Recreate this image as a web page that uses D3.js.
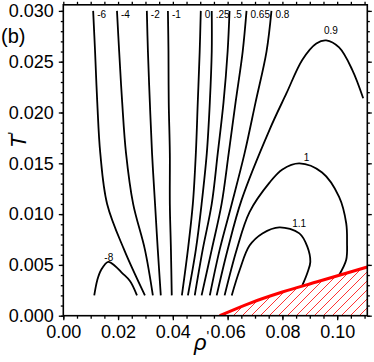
<!DOCTYPE html>
<html><head><meta charset="utf-8">
<script src="https://cdn.jsdelivr.net/npm/d3@7"></script>
<style>body{margin:0;background:#fff}svg{display:block}text{font-family:"Liberation Sans",Arial,sans-serif}</style>
</head><body><div id="c"></div>
<script>
// ---- data ----
const rhoTicks = [0, 0.02, 0.04, 0.06, 0.08, 0.10];
const tTicks = [0, 0.005, 0.010, 0.015, 0.020, 0.025, 0.030];
const levelLabels = ["-8", "-6", "-4", "-2", "-1", "0", ".25", ".5", "0.65", "0.8", "0.9", "1", "1.1"];
const fanT = [0.030, 0.026, 0.021, 0.016, 0.011, 0.0065, 0.002];
const contourRho = [
  [0.0113, 0.0124, 0.0138, 0.0164, 0.0189, 0.0215, 0.0244, 0.0269],
  [0.0109, 0.0116, 0.0124, 0.0135, 0.0160, 0.0222, 0.0298],
  [0.0196, 0.0204, 0.0215, 0.0229, 0.0255, 0.0298, 0.0327],
  [0.0305, 0.0309, 0.0316, 0.0324, 0.0335, 0.0345, 0.0356],
  [0.0382, 0.0384, 0.0385, 0.0389, 0.0389, 0.0393, 0.0396],
  [0.0502, 0.0498, 0.0491, 0.0484, 0.0473, 0.0455, 0.0433],
  [0.0542, 0.0542, 0.0535, 0.0524, 0.0505, 0.0484, 0.0455],
  [0.0607, 0.0600, 0.0585, 0.0564, 0.0542, 0.0509, 0.0480],
  [0.0669, 0.0655, 0.0629, 0.0604, 0.0578, 0.0542, 0.0505],
  [0.0760, 0.0742, 0.0702, 0.0662, 0.0615, 0.0571, 0.0535],
  [0.0560, 0.0600, 0.0651, 0.0753, 0.0815, 0.0873, 0.0924, 0.0960, 0.1007, 0.1055, 0.1095],
  [0.0589, 0.0633, 0.0680, 0.0753, 0.0800, 0.0862, 0.0945, 0.1007, 0.1033, 0.1036, 0.1033, 0.1007],
  [0.0615, 0.0644, 0.0680, 0.0727, 0.0789, 0.0862, 0.0891, 0.0902, 0.0891, 0.0873]
];
const contourT = [
  [0.0020, 0.0035, 0.0045, 0.0053, 0.0049, 0.0042, 0.0034, 0.0020],
  fanT, fanT, fanT, fanT, fanT, fanT, fanT, fanT, fanT,
  [0.0020, 0.0065, 0.0114, 0.0183, 0.0219, 0.0252, 0.0268, 0.0271, 0.0264, 0.0242, 0.0214],
  [0.0020, 0.0065, 0.0102, 0.0131, 0.0144, 0.0150, 0.0141, 0.0117, 0.0091, 0.0072, 0.0055, 0.0040],
  [0.0020, 0.0045, 0.0069, 0.0081, 0.0087, 0.0081, 0.0068, 0.0053, 0.0042, 0.0030]
];
// label anchors for closed/hump contours (label centre, baseline) in data units; null = top of line
const labelRho = [0.0166, null, null, null, null, null, null, null, null, null, 0.0977, 0.0888, 0.0861];
const labelT = [0.00538, null, null, null, null, null, null, null, null, null, 0.02773, 0.01523, 0.00870];
const boundaryRho = [0.0571, 0.0680, 0.0800, 0.0924, 0.1110];
const boundaryT = [0, 0.00122, 0.00233, 0.00332, 0.00479];

// ---- chart ----
const W = 374, H = 362;
const x = d3.scaleLinear().domain([0, 0.111]).range([63.3, 367.3]);
const y = d3.scaleLinear().domain([0, 0.0306]).range([315.7, 4.8]);
const svg = d3.select("#c").append("svg").attr("width", W).attr("height", H);

const defs = svg.append("defs");
defs.append("clipPath").attr("id", "clip").append("rect")
  .attr("x", x(0)).attr("y", y(0.0306)).attr("width", x(0.111) - x(0)).attr("height", y(0) - y(0.0306));
const pat = defs.append("pattern").attr("id", "hatch").attr("patternUnits", "userSpaceOnUse")
  .attr("width", 9).attr("height", 9);
pat.append("path").attr("d", "M-1,10 L10,-1 M-3,3 L3,-3 M6,12 L12,6")
  .attr("stroke", "#ff0000").attr("stroke-width", 0.8);

const plot = svg.append("g").attr("clip-path", "url(#clip)");

// hatched region under boundary
const bPts = boundaryRho.map((r, i) => [r, boundaryT[i]]);
const area = d3.area().x(d => x(d[0])).y0(y(0)).y1(d => y(d[1])).curve(d3.curveMonotoneX);
plot.append("path").datum(bPts).attr("d", area).attr("fill", "url(#hatch)");

// contours
const line = d3.line().x(d => x(d[0])).y(d => y(d[1])).curve(d3.curveCatmullRom.alpha(0.5));
contourRho.forEach((rs, i) => {
  const pts = rs.map((r, j) => [r, contourT[i][j]]);
  plot.append("path").datum(pts).attr("d", line)
    .attr("fill", "none").attr("stroke", "#000").attr("stroke-width", 1.8);
  let lx, ly, anchor;
  if (labelRho[i] === null) {
    lx = x(pts[0][0]) + 4; ly = y(pts[0][1]) + 7.5; anchor = "start";
  } else {
    lx = x(labelRho[i]); ly = y(labelT[i]); anchor = "middle";
  }
  svg.append("text").attr("x", lx).attr("y", ly).attr("text-anchor", anchor)
    .attr("font-size", 10).text(levelLabels[i]);
});

// boundary
plot.append("path").datum(bPts).attr("d", d3.line().x(d => x(d[0])).y(d => y(d[1])).curve(d3.curveMonotoneX))
  .attr("fill", "none").attr("stroke", "#ff0000").attr("stroke-width", 3);

// axes
const minorX = d3.range(0, 0.1111, 0.005);
const minorY = d3.range(0, 0.0306, 0.001);
function styleAxis(g) { g.select(".domain").remove(); g.selectAll("line").attr("stroke", "#000").attr("stroke-width", 1.3); }
svg.append("g").attr("transform", `translate(0,${y(0)})`)
  .call(d3.axisBottom(x).tickValues(minorX).tickSize(3).tickFormat("")).call(styleAxis);
svg.append("g").attr("transform", `translate(0,${y(0)})`)
  .call(d3.axisBottom(x).tickValues(rhoTicks).tickSize(4.5).tickPadding(5).tickFormat(d3.format(".2f")))
  .call(styleAxis).selectAll("text").attr("font-size", 18).attr("fill", "#000");
svg.append("g").attr("transform", `translate(0,${y(0.0306)})`)
  .call(d3.axisTop(x).tickValues(minorX).tickSize(3).tickFormat("")).call(styleAxis);
svg.append("g").attr("transform", `translate(${x(0)},0)`)
  .call(d3.axisLeft(y).tickValues(minorY).tickSize(2.5).tickFormat("")).call(styleAxis);
svg.append("g").attr("transform", `translate(${x(0)},0)`)
  .call(d3.axisLeft(y).tickValues(tTicks).tickSize(4.5).tickPadding(5).tickFormat(d3.format(".3f")))
  .call(styleAxis).selectAll("text").attr("font-size", 18).attr("fill", "#000");
svg.append("g").attr("transform", `translate(${x(0.111)},0)`)
  .call(d3.axisRight(y).tickValues(minorY).tickSize(2.5).tickFormat("")).call(styleAxis);
svg.append("g").attr("transform", `translate(${x(0.111)},0)`)
  .call(d3.axisRight(y).tickValues(tTicks).tickSize(4.5).tickFormat("")).call(styleAxis);

// frame
svg.append("rect").attr("x", x(0)).attr("y", y(0.0306)).attr("width", x(0.111) - x(0)).attr("height", y(0) - y(0.0306))
  .attr("fill", "none").attr("stroke", "#000").attr("stroke-width", 1.6);

// axis titles
const xl = svg.append("text").attr("x", 194).attr("y", 350).attr("font-size", 22).attr("font-style", "italic");
xl.append("tspan").text("ρ");
xl.append("tspan").attr("dy", -9).attr("font-size", 14).attr("font-style", "normal").text("'");
const yl = svg.append("text").attr("transform", "translate(26,148) rotate(-90)").attr("font-size", 22).attr("font-style", "italic");
yl.append("tspan").text("T");
yl.append("tspan").attr("dy", -8).attr("font-size", 14).attr("font-style", "normal").text("'");
svg.append("text").attr("x", 1).attr("y", 43).attr("font-size", 20).text("(b)");
</script></body></html>
